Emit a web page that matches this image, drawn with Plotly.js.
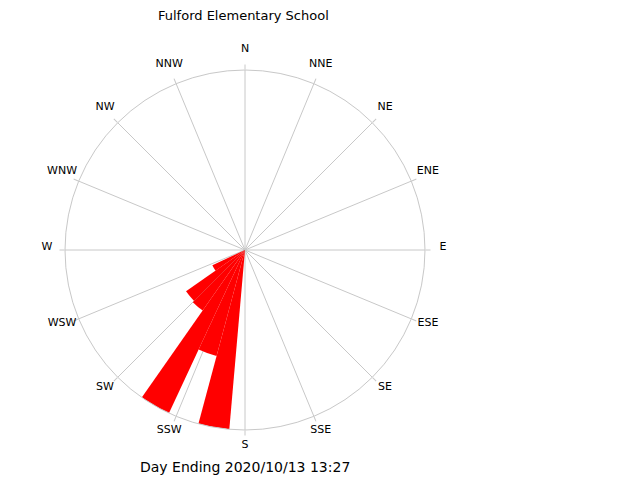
<!DOCTYPE html>
<html>
<head>
<meta charset="utf-8">
<script src="https://cdn.plot.ly/plotly-3.0.1.min.js"></script>
<style>html,body{margin:0;padding:0;background:#fff}#chart{width:640px;height:480px}</style>
</head>
<body>
<div id="chart"></div>
<script>
// Wind direction bins (degrees, 10-degree bins) and relative frequency
const directions = [190, 200, 210, 220, 230, 240];
const frequency = [100, 61, 100, 41, 40, 20];
const compassLabels = ["N","NNE","NE","ENE","E","ESE","SE","SSE","S","SSW","SW","WSW","W","WNW","NW","NNW"];
const compassAngles = [0,22.5,45,67.5,90,112.5,135,157.5,180,202.5,225,247.5,270,292.5,315,337.5];
const titleText = "Fulford Elementary School";
const footerText = "Day Ending 2020/10/13 13:27";

const font = "DejaVu Sans, Liberation Sans, Arial, sans-serif";
const W = 640, H = 480;
const cx = 245, cy = 250, R = 180;       // rose circle
const lcy = 247, LR = 200;                // label ring subplot
const rMax = 100;
const labelR = 99;

function domainOf(x0, y0, rad) {
  return {x: [(x0 - rad) / W, (x0 + rad) / W], y: [1 - (y0 + rad) / H, 1 - (y0 - rad) / H]};
}

const bars = {
  type: "barpolar",
  subplot: "polar",
  r: frequency,
  theta: directions,
  width: directions.map(() => 10),
  marker: {color: "#ff0000", line: {width: 0}},
  hoverinfo: "none"
};

const labels = {
  type: "scatterpolar",
  subplot: "polar2",
  mode: "text",
  r: compassAngles.map(() => labelR),
  theta: compassAngles,
  text: compassLabels,
  textposition: "middle center",
  textfont: {family: font, size: 11, color: "#000"},
  cliponaxis: false,
  hoverinfo: "none"
};

const hiddenRadial = {range: [0, rMax], visible: false, showgrid: false, showline: false, showticklabels: false, ticks: ""};

const layout = {
  width: W, height: H,
  margin: {l: 0, r: 0, t: 0, b: 0},
  paper_bgcolor: "#ffffff",
  showlegend: false,
  font: {family: font, size: 11, color: "#000"},
  polar: {
    domain: domainOf(cx, cy, R),
    bgcolor: "#ffffff",
    bargap: 0,
    radialaxis: {range: [0, rMax], showgrid: false, showline: false, showticklabels: false, ticks: "", layer: "above traces"},
    angularaxis: {
      direction: "clockwise", rotation: 90, thetaunit: "degrees",
      tickmode: "array", tickvals: compassAngles,
      showticklabels: false,
      showgrid: true, gridcolor: "#c8c8c8", gridwidth: 1,
      showline: true, linecolor: "#c8c8c8", linewidth: 1,
      ticks: "outside", ticklen: 5, tickcolor: "#c8c8c8",
      layer: "above traces"
    }
  },
  polar2: {
    domain: domainOf(cx, lcy, LR),
    bgcolor: "rgba(0,0,0,0)",
    radialaxis: hiddenRadial,
    angularaxis: {
      direction: "clockwise", rotation: 90, thetaunit: "degrees",
      showgrid: false, showline: false, showticklabels: false, ticks: "", visible: false
    }
  },
  annotations: [
    {text: titleText, xref: "paper", yref: "paper", x: 243 / W, y: 1 - 15 / H, xanchor: "center", yanchor: "middle", showarrow: false, font: {family: font, size: 13, color: "#000"}},
    {text: footerText, xref: "paper", yref: "paper", x: 245 / W, y: 1 - 467 / H, xanchor: "center", yanchor: "middle", showarrow: false, font: {family: font, size: 14, color: "#000"}}
  ]
};

Plotly.newPlot("chart", [bars, labels], layout, {staticPlot: true, displayModeBar: false});
</script>
</body>
</html>
